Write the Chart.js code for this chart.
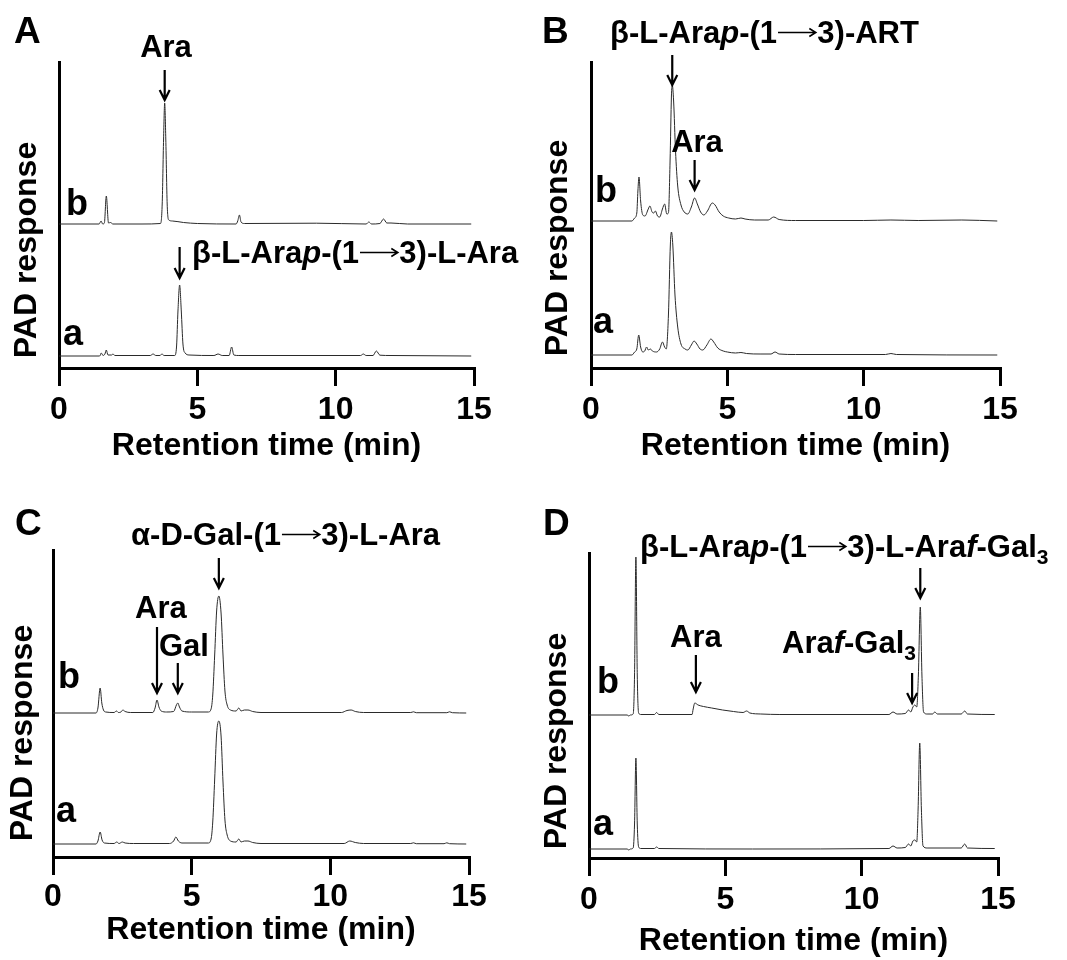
<!DOCTYPE html>
<html>
<head>
<meta charset="utf-8">
<title>HPAEC-PAD chromatograms</title>
<script src="https://cdn.jsdelivr.net/npm/chart.js@4.4.1/dist/chart.umd.min.js"></script>
<style>
  body { margin: 0; background: #fff; }
  #wrap { position: relative; width: 1067px; height: 960px; }
  canvas { position: absolute; }
</style>
</head>
<body>
<div id="wrap">
  <canvas id="panelA" width="533" height="480" style="left:0;top:0"></canvas>
  <canvas id="panelB" width="534" height="480" style="left:533px;top:0"></canvas>
  <canvas id="panelC" width="533" height="480" style="left:0;top:480px"></canvas>
  <canvas id="panelD" width="534" height="480" style="left:533px;top:480px"></canvas>
</div>
<script>
// Chromatogram traces: [retention time (min), PAD response above own baseline]
const traceAa = [[0,0],[1.47,0],[1.53,3],[1.59,0.5],[1.66,2],[1.71,6],[1.77,1],[1.9,1],[1.95,2],[2.02,0.5],[3.3,0.5],[3.4,2],[3.5,0.5],[3.65,0.5],[3.72,2],[3.8,0.5],[4.18,0.5],[4.25,10],[4.3,45],[4.36,71],[4.42,45],[4.48,12],[4.56,3],[4.7,1],[5.6,0.5],[5.75,2],[5.9,0.5],[6.15,0.5],[6.24,9],[6.32,1],[6.5,0.5],[10.9,0.5],[11.0,2],[11.1,0.5],[11.35,0.5],[11.47,5],[11.6,0.8],[12,0.5],[14.9,0]];
const traceAb = [[0,0],[1.45,0],[1.52,3],[1.58,0],[1.64,1],[1.71,28],[1.79,1],[1.86,1.5],[1.95,0],[3.0,0],[3.67,0.5],[3.73,20],[3.78,85],[3.82,121],[3.86,85],[3.91,20],[3.97,4],[4.1,3],[4.5,1.5],[5.0,0.5],[6.4,0],[6.46,3],[6.52,9],[6.58,2],[6.7,0.5],[9.3,0.8],[11.1,0],[11.2,2],[11.3,0],[11.6,0.5],[11.73,5],[11.85,1],[12.0,1],[12.6,0],[14.9,0]];

const traceBa = [[0,0],[1.5,0],[1.6,3],[1.68,6],[1.75,20],[1.82,8],[1.9,3],[1.97,4],[2.04,8],[2.1,5],[2.18,6],[2.25,4],[2.4,3],[2.52,6],[2.62,13],[2.7,8],[2.76,6],[2.84,40],[2.91,110],[2.95,123],[3.0,110],[3.08,60],[3.18,28],[3.3,11],[3.45,6],[3.55,5],[3.68,10],[3.78,14],[3.88,11],[4.0,6],[4.1,5],[4.25,10],[4.4,16],[4.5,13],[4.65,7],[4.85,4],[5.0,3],[5.3,2],[5.5,2.5],[5.7,1.5],[6.2,1],[6.6,1],[6.75,3],[6.9,1],[7.5,0.5],[10.8,0.5],[11.0,1.5],[11.2,0.5],[14.9,0]];
const traceBb = [[0,0],[1.5,0],[1.6,3],[1.68,8],[1.72,30],[1.76,44],[1.82,20],[1.9,6],[1.98,5],[2.1,12],[2.16,15],[2.24,9],[2.3,8],[2.36,10],[2.44,5],[2.52,4],[2.62,12],[2.7,17],[2.78,7],[2.84,8],[2.9,60],[2.95,125],[2.98,136],[3.03,120],[3.1,70],[3.18,35],[3.3,16],[3.42,9],[3.55,7],[3.68,14],[3.8,23],[3.9,17],[4.02,9],[4.14,6],[4.27,10],[4.45,18],[4.55,16],[4.7,9],[4.85,5],[5.05,3],[5.3,2],[5.5,3],[5.65,2],[6.0,1],[6.5,1],[6.7,4],[6.9,1.5],[7.5,0.5],[10,0.5],[11,1],[12,0.5],[13.6,1],[14.9,0]];

const traceCa = [[0,0],[1.55,0],[1.62,3],[1.7,12],[1.77,4],[1.85,1],[2.2,0.5],[2.3,2],[2.38,0.5],[2.5,2],[2.6,1],[2.9,0.5],[4.2,0.5],[4.35,3],[4.43,7],[4.52,3],[4.65,1],[5.6,1],[5.7,5],[5.76,22],[5.83,65],[5.9,110],[5.98,123],[6.06,108],[6.13,62],[6.2,24],[6.28,9],[6.4,3],[6.6,2],[6.7,5],[6.78,2],[6.9,3],[7.03,3],[7.2,1.5],[7.5,0.5],[10.5,0.5],[10.7,3],[10.9,1.5],[11.2,0.5],[12.9,0.5],[13.0,1.2],[13.1,0.3],[14.1,0.3],[14.2,1.2],[14.3,0.3],[14.9,0]];
const traceCb = [[0,0],[1.55,0],[1.62,5],[1.7,25],[1.76,10],[1.82,3],[1.9,1],[2.2,0.5],[2.29,2],[2.36,0.5],[2.45,1],[2.52,3],[2.6,1.5],[2.8,0.5],[3.6,0.5],[3.68,5],[3.75,13],[3.82,6],[3.9,2],[4.1,1],[4.35,1.5],[4.45,8],[4.5,10],[4.56,6],[4.65,2],[5.0,1],[5.6,1],[5.7,4],[5.76,18],[5.83,58],[5.9,102],[5.98,117],[6.06,100],[6.13,58],[6.2,22],[6.28,8],[6.4,3],[6.6,2],[6.7,5],[6.78,2],[6.9,3],[7.03,3],[7.2,1.5],[7.5,0.5],[10.4,0.5],[10.6,2.5],[10.75,3],[10.9,1.5],[11.2,0.5],[12.9,0.5],[13.0,1.2],[13.1,0.3],[14.2,0.3],[14.3,1.2],[14.4,0.3],[14.9,0]];

const traceDa = [[0,0],[1.4,0],[1.46,-1],[1.52,0],[1.62,1],[1.67,25],[1.72,91],[1.77,25],[1.82,2],[1.9,0.5],[2.4,0.5],[2.48,2],[2.56,0.5],[6,0],[11.0,0.5],[11.15,3],[11.3,1],[11.6,1.5],[11.72,5],[11.8,3],[11.88,8],[11.95,9],[12.02,7],[12.07,40],[12.13,106],[12.19,40],[12.25,3],[12.4,1],[13.65,1],[13.78,5],[13.88,1],[14.88,0.5]];
const traceDb = [[0,0],[1.4,0],[1.46,-1],[1.52,0],[1.62,1],[1.67,40],[1.72,158],[1.77,40],[1.82,2],[1.9,0.5],[2.4,0.5],[2.48,2.5],[2.56,0.5],[3.78,0.5],[3.82,6],[3.88,12],[4.0,10],[4.2,8.5],[4.5,7],[4.9,5],[5.3,3.5],[5.65,2.5],[5.78,4],[5.9,2],[6.3,1],[7,0.5],[11.0,0.5],[11.15,3],[11.3,1],[11.6,1.5],[11.72,5],[11.8,3],[11.88,8],[11.95,10],[12.02,8],[12.08,40],[12.15,108],[12.21,40],[12.27,3],[12.4,1],[12.6,1],[12.68,3],[12.78,1],[13.65,1],[13.78,4],[13.88,1],[14.88,0.5]];

const xTicks = [0, 5, 10, 15];
const xTitle = 'Retention time (min)';
const yTitle = 'PAD response';

const FONT = '"Liberation Sans", Arial, sans-serif';
const INK = '#000';
const AXIS_PX = 32;
const NOTE_PX = 31;

// rich label pieces: [text, kind]  kind: '' bold, 'i' italic, 'arr' linkage arrow, 'sub' subscript
const nameA = [['β-L-Ara'], ['p', 'i'], ['-(1'], ['→', 'arr'], ['3)-L-Ara']];
const nameB = [['β-L-Ara'], ['p', 'i'], ['-(1'], ['→', 'arr'], ['3)-ART']];
const nameC = [['α-D-Gal-(1'], ['→', 'arr'], ['3)-L-Ara']];
const nameD = [['β-L-Ara'], ['p', 'i'], ['-(1'], ['→', 'arr'], ['3)-L-Ara'], ['f', 'i'], ['-Gal'], ['3', 'sub']];
const nameD2 = [['Ara'], ['f', 'i'], ['-Gal'], ['3', 'sub']];

const panels = [
  {
    id: 'panelA', letter: 'A', a: traceAa, b: traceAb, base: [12, 144],
    area: { left: 59, top: 62, right: 474, bottom: 368 }, tickPad: 5, titlePad: 15,
    yTitleAt: [27, 250], bAt: [66, 215], aAt: [63, 345], letterAt: [14, 43],
    labels: [{ parts: [['Ara']], x: 166, y: 57, align: 'center' }, { parts: nameA, x: 192, y: 263 }],
    arrows: [{ t: 3.82, y0: 70, y1: 100 }, { t: 4.36, y0: 247, y1: 278 }]
  },
  {
    id: 'panelB', letter: 'B', a: traceBa, b: traceBb, base: [13, 147],
    area: { left: 58, top: 62, right: 467, bottom: 368 }, tickPad: 5, titlePad: 15,
    yTitleAt: [25, 248], bAt: [62, 202], aAt: [60, 333], letterAt: [9, 43],
    labels: [{ parts: nameB, x: 77, y: 43 }, { parts: [['Ara']], x: 164, y: 152, align: 'center' }],
    arrows: [{ t: 2.98, y0: 55, y1: 85 }, { t: 3.8, y0: 160, y1: 190 }]
  },
  {
    id: 'panelC', letter: 'C', a: traceCa, b: traceCb, base: [13, 144],
    area: { left: 53, top: 70, right: 469, bottom: 377 }, tickPad: 3, titlePad: 11,
    yTitleAt: [23, 253], bAt: [58, 208], aAt: [56, 342], letterAt: [15, 55],
    labels: [
      { parts: nameC, x: 131, y: 65 },
      { parts: [['Ara']], x: 135, y: 138 },
      { parts: [['Gal']], x: 159, y: 176 }
    ],
    arrows: [{ t: 5.98, y0: 78, y1: 108 }, { t: 3.75, y0: 147, y1: 213 }, { t: 4.5, y0: 183, y1: 213 }]
  },
  {
    id: 'panelD', letter: 'D', a: traceDa, b: traceDb, base: [9, 143],
    area: { left: 56, top: 73, right: 465, bottom: 378 }, tickPad: 5, titlePad: 0,
    yTitleAt: [24, 261], bAt: [64, 213], aAt: [60, 355], letterAt: [10, 55],
    labels: [
      { parts: nameD, x: 107, y: 77 },
      { parts: [['Ara']], x: 137, y: 167 },
      { parts: nameD2, x: 249, y: 173 }
    ],
    arrows: [{ t: 12.15, y0: 88, y1: 118 }, { t: 3.92, y0: 175, y1: 212 }, { t: 11.85, y0: 193, y1: 223 }]
  }
];

function fontFor(kind, size) {
  if (kind === 'i') return `italic bold ${size}px ${FONT}`;
  if (kind === 'sub') return `bold ${Math.round(size * 0.68)}px ${FONT}`;
  return `bold ${size}px ${FONT}`;
}

// the linkage arrow is stroked as a long thin arrow, like a symbol-font glyph
function pieceWidth(ctx, txt, kind, size) {
  if (kind === 'arr') return size * 1.3;
  ctx.font = fontFor(kind, size);
  return ctx.measureText(txt).width;
}

function drawLinkArrow(ctx, x, y, w, size) {
  const ay = y - size * 0.34;
  ctx.save();
  ctx.strokeStyle = INK;
  ctx.lineWidth = 1.6;
  ctx.beginPath();
  ctx.moveTo(x + 1, ay);
  ctx.lineTo(x + w - 2, ay);
  ctx.moveTo(x + w - 8, ay - 4);
  ctx.lineTo(x + w - 1.5, ay);
  ctx.lineTo(x + w - 8, ay + 4);
  ctx.stroke();
  ctx.restore();
}

function drawRich(ctx, parts, x, y, size, align) {
  let total = 0;
  parts.forEach(([txt, kind]) => { total += pieceWidth(ctx, txt, kind, size); });
  let cx = align === 'center' ? x - total / 2 : x;
  ctx.textAlign = 'left';
  ctx.textBaseline = 'alphabetic';
  parts.forEach(([txt, kind]) => {
    const w = pieceWidth(ctx, txt, kind, size);
    if (kind === 'arr') {
      drawLinkArrow(ctx, cx, y, w, size);
    } else {
      ctx.font = fontFor(kind, size);
      ctx.fillText(txt, cx, kind === 'sub' ? y + size * 0.22 : y);
    }
    cx += w;
  });
}

function drawArrow(ctx, x, y0, y1) {
  ctx.beginPath();
  ctx.moveTo(x, y0);
  ctx.lineTo(x, y1);
  ctx.moveTo(x - 5, y1 - 10);
  ctx.lineTo(x, y1);
  ctx.lineTo(x + 5, y1 - 10);
  ctx.lineWidth = 2.2;
  ctx.strokeStyle = INK;
  ctx.stroke();
}

function annotations(p) {
  return {
    id: 'peakNotes',
    afterDraw(chart) {
      const ctx = chart.ctx;
      const xs = chart.scales.x;
      ctx.save();
      ctx.fillStyle = INK;
      ctx.textBaseline = 'alphabetic';
      ctx.textAlign = 'left';
      ctx.font = `bold 37px ${FONT}`;
      ctx.fillText(p.letter, p.letterAt[0], p.letterAt[1]);
      ctx.font = `bold 36px ${FONT}`;
      ctx.fillText('b', p.bAt[0], p.bAt[1]);
      ctx.fillText('a', p.aAt[0], p.aAt[1]);

      ctx.save();
      ctx.translate(p.yTitleAt[0], p.yTitleAt[1]);
      ctx.rotate(-Math.PI / 2);
      ctx.textAlign = 'center';
      ctx.textBaseline = 'middle';
      ctx.font = `bold ${AXIS_PX}px ${FONT}`;
      ctx.fillText(yTitle, 0, 0);
      ctx.restore();

      p.labels.forEach(l => drawRich(ctx, l.parts, l.x, l.y, NOTE_PX, l.align));
      p.arrows.forEach(a => drawArrow(ctx, xs.getPixelForValue(a.t), a.y0, a.y1));
      ctx.restore();
    }
  };
}

function stacked(trace, base) {
  return trace.map(([t, v]) => ({ x: t, y: v + base }));
}

function makeChart(p) {
  const el = document.getElementById(p.id);
  const W = el.width, H = el.height;
  const line = { borderColor: '#2a2a2a', borderWidth: 1, pointRadius: 0, fill: false, cubicInterpolationMode: 'monotone' };
  return new Chart(el, {
    type: 'line',
    data: {
      datasets: [
        Object.assign({ label: 'a', data: stacked(p.a, p.base[0]) }, line),
        Object.assign({ label: 'b', data: stacked(p.b, p.base[1]) }, line)
      ]
    },
    options: {
      responsive: false,
      animation: false,
      events: [],
      layout: { padding: { left: p.area.left, top: p.area.top, right: W - p.area.right, bottom: 0 } },
      plugins: { legend: { display: false }, tooltip: { enabled: false } },
      scales: {
        x: {
          type: 'linear', min: 0, max: 15,
          afterBuildTicks: s => { s.ticks = xTicks.map(v => ({ value: v })); },
          afterFit: s => { s.height = H - p.area.bottom; s.paddingLeft = 0; s.paddingRight = 0; },
          ticks: {
            color: INK, padding: p.tickPad - 0.5, maxRotation: 0, autoSkip: false,
            font: { family: FONT, size: AXIS_PX, weight: 'bold', lineHeight: 1.2 }
          },
          grid: { display: true, drawOnChartArea: false, drawTicks: true, tickLength: 18, color: INK, lineWidth: 3 },
          border: { display: true, color: INK, width: 3 },
          title: {
            display: true, text: xTitle, color: INK,
            font: { family: FONT, size: AXIS_PX, weight: 'bold', lineHeight: 1.2 },
            padding: { top: 0, bottom: Math.max(p.titlePad - 0.5, 0) }
          }
        },
        y: {
          type: 'linear', min: 0, max: p.area.bottom - p.area.top,
          afterFit: s => { s.width = 0; s.paddingTop = 0; s.paddingBottom = 0; },
          ticks: { display: false },
          grid: { display: false, drawTicks: false },
          border: { display: true, color: INK, width: 3 }
        }
      }
    },
    plugins: [annotations(p)]
  });
}

panels.forEach(makeChart);
</script>
</body>
</html>
